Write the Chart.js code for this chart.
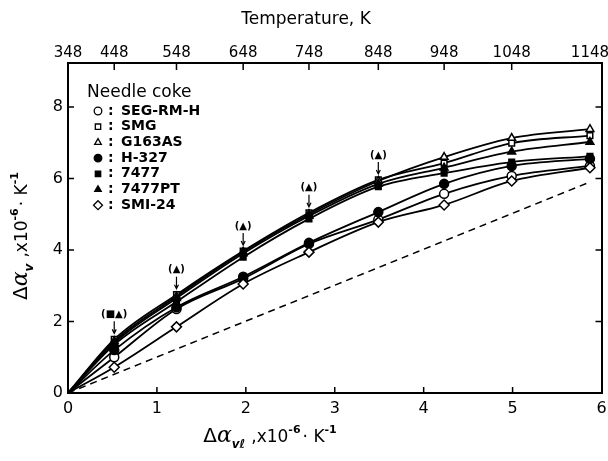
<!DOCTYPE html>
<html>
<head>
<meta charset="utf-8">
<script src="https://cdn.jsdelivr.net/npm/chart.js"></script>
<style>
  html, body { margin: 0; padding: 0; background: #fff; }
  #wrap { width: 608px; height: 461px; }
</style>
</head>
<body>
<div id="wrap"><canvas id="cokeChart" width="608" height="461"></canvas></div>
<script>
// Δα_vl at each measuring temperature (348 K is the reference)
const xVals = [0.52, 1.22, 1.97, 2.71, 3.49, 4.23, 4.99, 5.87];
const temps = [348, 448, 548, 648, 748, 848, 948, 1048, 1148];
const tempPos = [0, 0.52, 1.22, 1.97, 2.71, 3.49, 4.23, 4.99, 5.87];

const names = ['SEG-RM-H', 'SMG', 'G163AS', 'H-327', '7477', '7477PT', 'SMI-24'];
const segRmH = [1.00, 2.35, 3.20, 4.17, 4.85, 5.57, 6.07, 6.35];
const smg    = [1.50, 2.75, 3.97, 5.04, 5.96, 6.43, 6.99, 7.20];
const g163as = [1.45, 2.70, 3.95, 5.00, 5.93, 6.60, 7.13, 7.38];
const h327   = [1.20, 2.40, 3.25, 4.20, 5.06, 5.85, 6.35, 6.55];
const c7477  = [1.35, 2.55, 3.80, 4.87, 5.77, 6.15, 6.46, 6.62];
const c7477pt= [1.40, 2.65, 3.90, 4.95, 5.85, 6.30, 6.75, 7.02];
const smi24  = [0.72, 1.85, 3.05, 3.94, 4.78, 5.26, 5.93, 6.30];

// dashed reference line Δα_v = Δα_vl
const refX = [0, 5.87];
const refY = [0, 5.90];

// hidden-marker notes above the SMG squares
const noteX = [0.52, 1.22, 1.97, 2.71, 3.49];
const noteY = [1.50, 2.75, 3.97, 5.04, 5.96];
const noteText = ['(■▲)', '(▲)', '(▲)', '(▲)', '(▲)'];

const yTicks = [0, 2, 4, 6, 8];
const xTicks = [0, 1, 2, 3, 4, 5, 6];

const seriesVals = [segRmH, smg, g163as, h327, c7477, c7477pt, smi24];
const styles = [
  { pointStyle: 'circle', filled: false },
  { pointStyle: 'rect', filled: false },
  { pointStyle: 'triangle', filled: false },
  { pointStyle: 'circle', filled: true },
  { pointStyle: 'rect', filled: true },
  { pointStyle: 'triangle', filled: true },
  { pointStyle: 'rectRot', filled: false }
];

const FONT = '"DejaVu Sans", "Liberation Sans", sans-serif';

const datasets = seriesVals.map((vals, i) => {
  const st = styles[i];
  const pts = [{ x: 0, y: 0 }].concat(vals.map((v, j) => ({ x: xVals[j], y: v })));
  const r = st.pointStyle === 'rect' ? 4 : (st.pointStyle === 'rectRot' ? 5 : 4.5);
  return {
    label: names[i],
    data: pts,
    borderColor: '#000',
    borderWidth: 1.8,
    pointStyle: st.pointStyle,
    pointRadius: pts.map((p, k) => k === 0 ? 0 : r),
    pointBorderWidth: 1.5,
    pointBorderColor: '#000',
    pointBackgroundColor: st.filled ? '#000' : '#fff',
    cubicInterpolationMode: 'monotone',
    fill: false,
    order: 7 - i
  };
});

datasets.push({
  label: 'ref',
  data: refX.map((x, i) => ({ x: x, y: refY[i] })),
  borderColor: '#000',
  borderWidth: 1.5,
  borderDash: [7, 5],
  pointRadius: 0,
  fill: false,
  order: 10
});

// inward tick marks on all four sides
const inwardTicks = {
  id: 'inwardTicks',
  afterDraw(chart) {
    const ctx = chart.ctx, a = chart.chartArea, s = chart.scales;
    ctx.save();
    ctx.strokeStyle = '#000';
    ctx.lineWidth = 1.5;
    ctx.beginPath();
    xTicks.slice(1, -1).forEach(v => {
      const px = s.x.getPixelForValue(v);
      ctx.moveTo(px, a.bottom); ctx.lineTo(px, a.bottom - 6);
    });
    tempPos.slice(1, -1).forEach(v => {
      const px = s.xTop.getPixelForValue(v);
      ctx.moveTo(px, a.top); ctx.lineTo(px, a.top + 7);
    });
    yTicks.slice(1).forEach(v => {
      const py = s.y.getPixelForValue(v);
      ctx.moveTo(a.left, py); ctx.lineTo(a.left + 6, py);
      ctx.moveTo(a.right, py); ctx.lineTo(a.right - 6, py);
    });
    ctx.stroke();
    ctx.restore();
  }
};

// draw a run of text pieces with sub/superscript offsets
function drawRich(ctx, parts, x, y) {
  let total = 0;
  parts.forEach(p => { ctx.font = p.f; total += ctx.measureText(p.t).width + (p.gap || 0); });
  let cx = x - total / 2;
  parts.forEach(p => {
    ctx.font = p.f;
    ctx.fillText(p.t, cx, y + (p.dy || 0));
    cx += ctx.measureText(p.t).width + (p.gap || 0);
  });
}

const titlesAndKey = {
  id: 'titlesAndKey',
  afterDraw(chart) {
    const ctx = chart.ctx, s = chart.scales;
    ctx.save();
    ctx.fillStyle = '#000';
    ctx.textBaseline = 'alphabetic';
    ctx.textAlign = 'left';

    // top title
    ctx.font = '17px ' + FONT;
    ctx.textAlign = 'center';
    ctx.fillText('Temperature, K', 306, 24);
    ctx.textAlign = 'left';

    const big = '20px ' + FONT, ital = 'italic 22px "DejaVu Serif", serif';
    const sup = 'bold 11px ' + FONT;
    const axisTitle = subTxt => [
      { t: 'Δ', f: big },
      { t: 'α', f: ital },
      { t: subTxt, f: 'italic bold 12px ' + FONT, dy: 6, gap: 6 },
      { t: ',x10', f: '17px ' + FONT },
      { t: '-6', f: sup, dy: -9, gap: 2 },
      { t: '· K', f: '17px ' + FONT },
      { t: '-1', f: sup, dy: -9 }
    ];

    // x title
    drawRich(ctx, axisTitle('vℓ'), 270, 442);

    // y title, rotated
    ctx.save();
    ctx.translate(27, 236);
    ctx.rotate(-Math.PI / 2);
    drawRich(ctx, axisTitle('v'), 0, 0);
    ctx.restore();

    // key inside the plot
    ctx.font = '17px ' + FONT;
    ctx.fillText('Needle coke', 87, 97);
    ctx.font = 'bold 14px ' + FONT;
    names.forEach((n, i) => {
      const y = 111 + i * 15.7;
      const st = styles[i];
      ctx.fillStyle = st.filled ? '#000' : '#fff';
      ctx.strokeStyle = '#000';
      ctx.lineWidth = 1.3;
      Chart.helpers.drawPoint(ctx, { pointStyle: st.pointStyle, radius: st.pointStyle === 'rectRot' ? 4.5 : 3.8, borderWidth: 1.3 }, 98, y);
      ctx.fillStyle = '#000';
      ctx.textBaseline = 'middle';
      ctx.fillText(':', 108, y);
      ctx.fillText(n, 121, y);
    });

    // notes over the overlapping markers
    ctx.textBaseline = 'middle';
    ctx.textAlign = 'center';
    ctx.font = 'bold 10px ' + FONT;
    noteX.forEach((v, i) => {
      const px = s.x.getPixelForValue(v);
      const py = s.y.getPixelForValue(noteY[i]);
      ctx.fillText(noteText[i], px, py - 25);
      ctx.beginPath();
      ctx.lineWidth = 1.2;
      ctx.moveTo(px, py - 18); ctx.lineTo(px, py - 7);
      ctx.stroke();
      ctx.beginPath();
      ctx.moveTo(px - 2, py - 10); ctx.lineTo(px, py - 6); ctx.lineTo(px + 2, py - 10);
      ctx.stroke();
    });
    ctx.restore();
  }
};

const whiteBg = {
  id: 'whiteBg',
  beforeDraw(chart) {
    const ctx = chart.ctx;
    ctx.save();
    ctx.fillStyle = '#fff';
    ctx.fillRect(0, 0, chart.width, chart.height);
    ctx.restore();
  }
};

const tickFont = { family: FONT, size: 16 };
const frame = { display: true, color: '#000', width: 2 };
const noSidePad = sc => { sc.paddingLeft = 0; sc.paddingRight = 0; };

new Chart(document.getElementById('cokeChart'), {
  type: 'line',
  data: { datasets: datasets },
  options: {
    responsive: false,
    animation: false,
    events: [],
    layout: { padding: 0 },
    plugins: { legend: { display: false }, tooltip: { enabled: false } },
    scales: {
      x: {
        type: 'linear', position: 'bottom', min: 0, max: 6,
        afterBuildTicks: sc => { sc.ticks = xTicks.map(v => ({ value: v })); },
        afterFit: sc => { sc.height = 68; noSidePad(sc); },
        grid: { display: false, drawTicks: false },
        border: frame,
        ticks: { color: '#000', font: tickFont, padding: 6, maxRotation: 0 }
      },
      xTop: {
        type: 'linear', position: 'top', min: 0, max: 6,
        afterBuildTicks: sc => { sc.ticks = tempPos.map(v => ({ value: v })); },
        afterFit: sc => { sc.height = 63; noSidePad(sc); },
        grid: { display: false, drawTicks: false },
        border: frame,
        ticks: {
          color: '#000', font: { family: FONT, size: 15 }, padding: 1, maxRotation: 0, autoSkip: false,
          callback: (v, i) => String(temps[i])
        }
      },
      y: {
        type: 'linear', position: 'left', min: 0, max: 9.23,
        afterBuildTicks: sc => { sc.ticks = yTicks.map(v => ({ value: v })); },
        afterFit: sc => { sc.width = 68; sc.paddingTop = 0; sc.paddingBottom = 0; },
        grid: { display: false, drawTicks: false },
        border: frame,
        ticks: { color: '#000', font: tickFont, padding: 5 }
      },
      yRight: {
        type: 'linear', position: 'right', min: 0, max: 9.23,
        afterFit: sc => { sc.width = 5; sc.paddingTop = 0; sc.paddingBottom = 0; },
        grid: { display: false, drawTicks: false },
        border: frame,
        ticks: { display: false }
      }
    }
  },
  plugins: [whiteBg, inwardTicks, titlesAndKey]
});
</script>
</body>
</html>
